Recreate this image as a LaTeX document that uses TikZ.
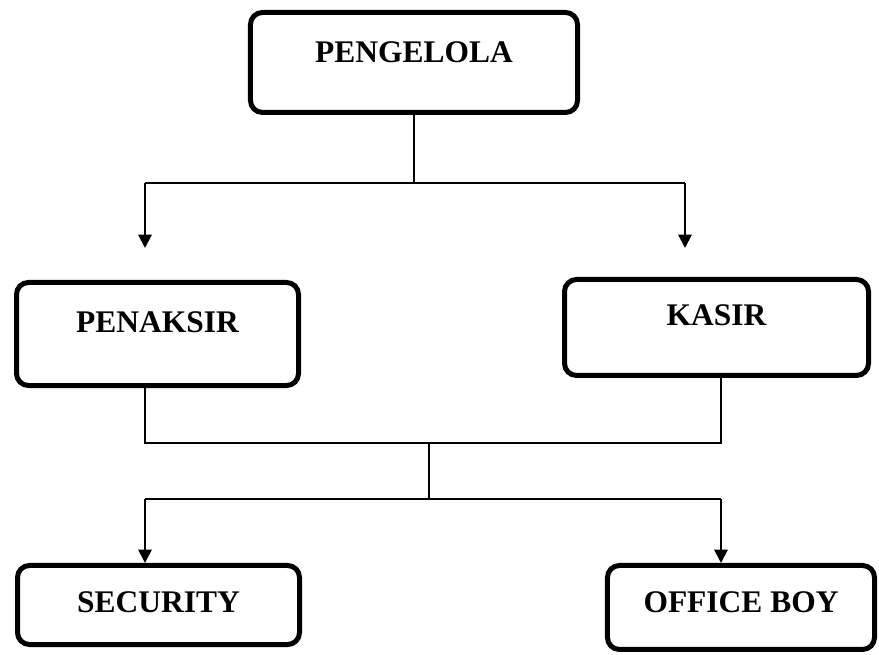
\documentclass[tikz,border=0pt]{standalone}
\usepackage{fontspec}
\setmainfont{Liberation Serif}
\usetikzlibrary{arrows.meta}

\begin{document}
\begin{tikzpicture}[x=0.75pt,y=-0.75pt]
	\tikzstyle{every node}+=[inner sep=0pt]
	\tikzstyle{orgbox}=[draw=black, line width=3.75pt, rounded corners=9pt, font=\fontsize{23.6}{28}\selectfont\bfseries, text height=15.6pt]
	\tikzstyle{link}=[black, line width=1.5pt]
	\tikzstyle{arrow}=[link, -{Triangle[length=10pt,width=10pt]}]
	\useasboundingbox (0,0) rectangle (879,655);
	% boxes
	\node[orgbox, minimum width=245.3pt, minimum height=75pt, text depth=15.8pt] (peng) at (414,62.5) {PENGELOLA};
	\node[orgbox, minimum width=211.5pt, minimum height=77.3pt, text depth=18pt] (pen) at (157.5,334) {PENAKSIR};
	\node[orgbox, minimum width=228pt, minimum height=72pt, text depth=19pt] (kas) at (716.5,327.5) {KASIR};
	\node[orgbox, minimum width=211.5pt, minimum height=59.3pt, text depth=4.5pt] (sec) at (158.5,605) {SECURITY};
	\node[orgbox, minimum width=200.3pt, minimum height=63pt, text depth=8pt] (ob) at (741,607.5) {OFFICE BOY};
	% upper connectors
	\coordinate (topbus) at (414,183);
	\coordinate (topL) at (145,183);
	\coordinate (topR) at (685,183);
	\coordinate (tipL) at (145,248);
	\coordinate (tipR) at (685,248);
	\draw[link] (peng.south) -- (topbus);
	\draw[link] (topL) -- (topR);
	\draw[arrow] (topL) -- (tipL);
	\draw[arrow] (topR) -- (tipR);
	% lower connectors
	\coordinate (midL) at (145,443);
	\coordinate (midR) at (721,443);
	\coordinate (hubA) at (429,443);
	\coordinate (hubB) at (429,499);
	\coordinate (lowL) at (145,499);
	\coordinate (lowR) at (721,499);
	\draw[link] (pen.south -| midL) -- (midL) -- (midR) -- (kas.south -| midR);
	\draw[link] (hubA) -- (hubB);
	\draw[link] (lowL) -- (lowR);
	\draw[arrow] (lowL) -- (sec.north -| lowL);
	\draw[arrow] (lowR) -- (ob.north -| lowR);
\end{tikzpicture}
\end{document}
